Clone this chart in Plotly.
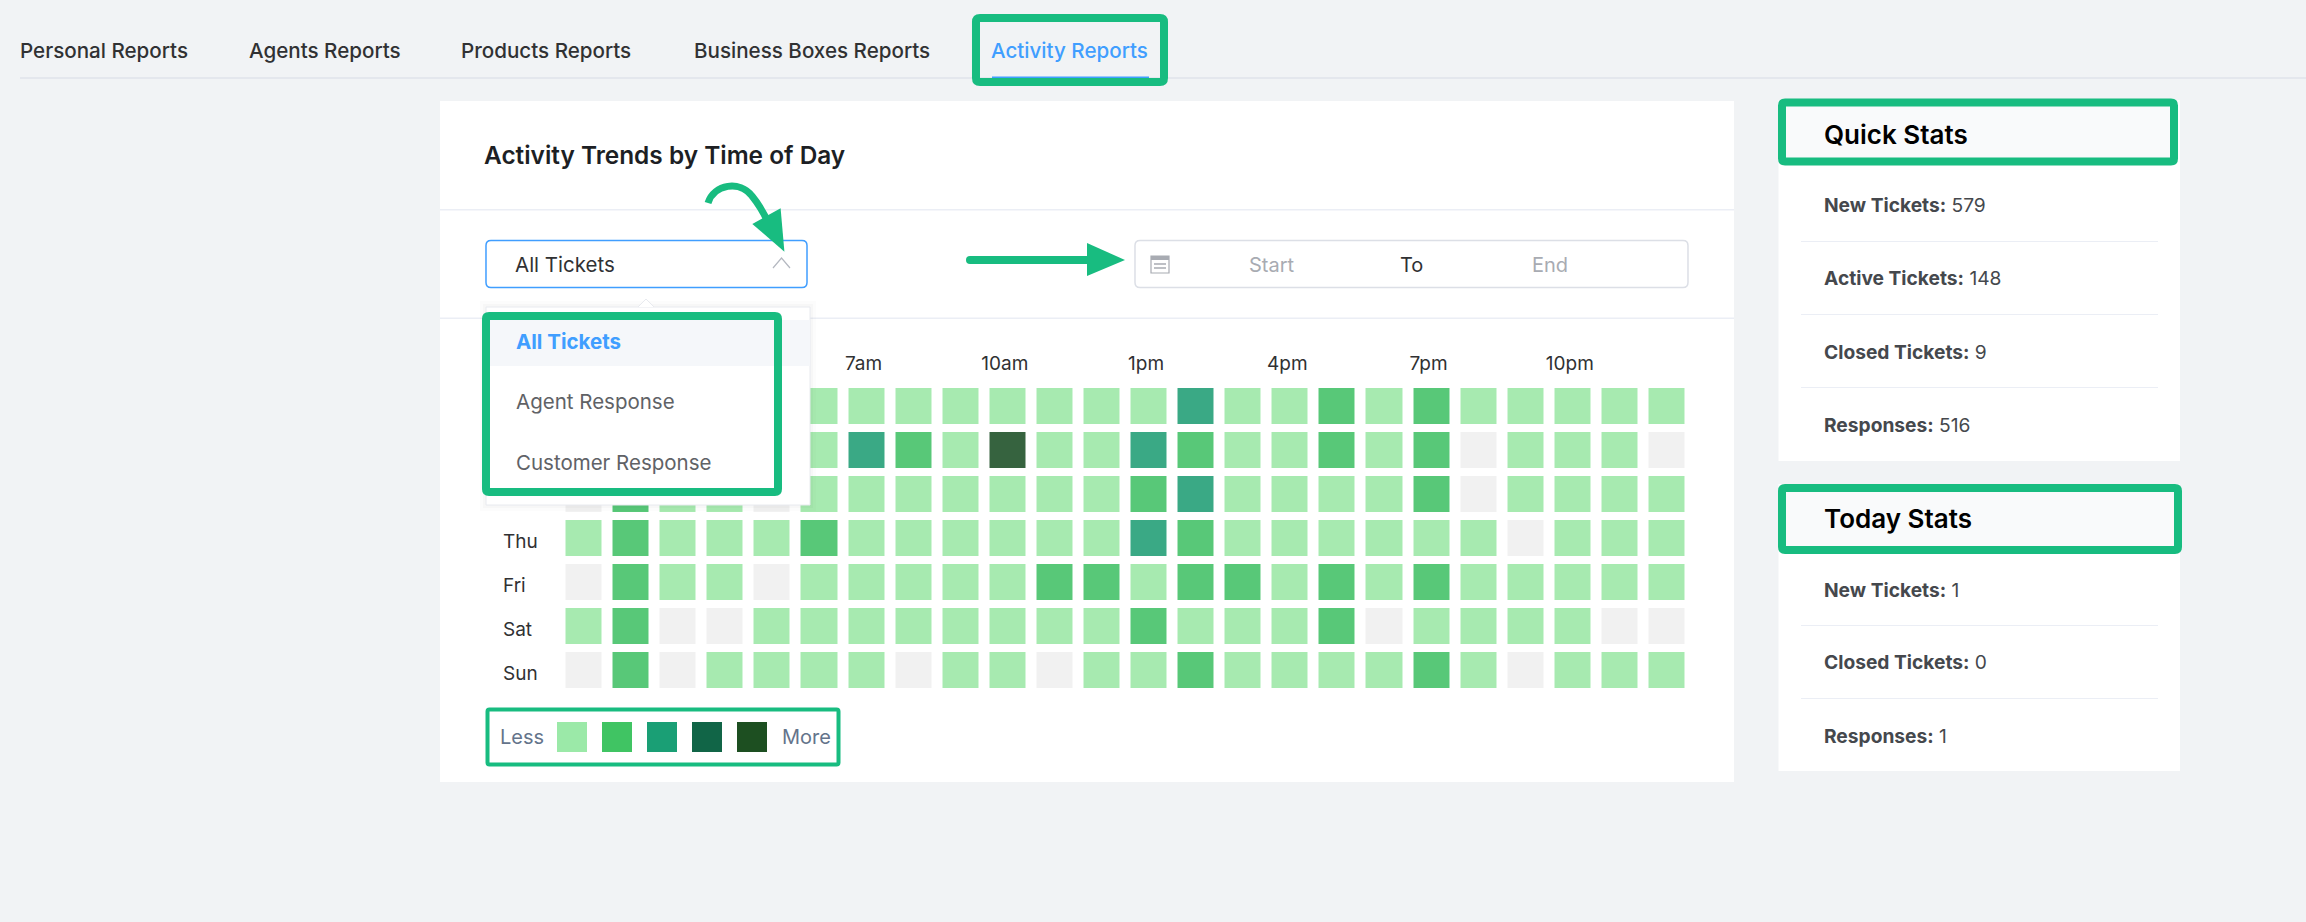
import plotly.graph_objects as go

W = 2306
H = 922

HOURS = ["1am", "2am", "3am", "4am", "5am", "6am", "7am", "8am", "9am", "10am", "11am", "12pm",
         "1pm", "2pm", "3pm", "4pm", "5pm", "6pm", "7pm", "8pm", "9pm", "10pm", "11pm", "12am"]
# 1am, 4am and Mon-Wed are hidden behind the open dropdown
HOUR_TICKS = ["7am", "10am", "1pm", "4pm", "7pm", "10pm"]
DAYS = ["Mon", "Tue", "Wed", "Thu", "Fri", "Sat", "Sun"]
DAY_TICKS = ["Thu", "Fri", "Sat", "Sun"]

# activity level per hour, 0 = nothing, 4 = busiest
MON = [1, 1, 1, 1, 1, 1, 1, 1, 1, 1, 1, 1, 1, 3, 1, 1, 2, 1, 2, 1, 1, 1, 1, 1]
TUE = [1, 1, 1, 1, 1, 1, 3, 2, 1, 4, 1, 1, 3, 2, 1, 1, 2, 1, 2, 0, 1, 1, 1, 0]
WED = [0, 2, 1, 1, 0, 1, 1, 1, 1, 1, 1, 1, 2, 3, 1, 1, 1, 1, 2, 0, 1, 1, 1, 1]
THU = [1, 2, 1, 1, 1, 2, 1, 1, 1, 1, 1, 1, 3, 2, 1, 1, 1, 1, 1, 1, 0, 1, 1, 1]
FRI = [0, 2, 1, 1, 0, 1, 1, 1, 1, 1, 2, 2, 1, 2, 2, 1, 2, 1, 2, 1, 1, 1, 1, 1]
SAT = [1, 2, 0, 0, 1, 1, 1, 1, 1, 1, 1, 1, 2, 1, 1, 1, 2, 0, 1, 1, 1, 1, 0, 0]
SUN = [0, 2, 0, 1, 1, 1, 1, 0, 1, 1, 0, 1, 1, 2, 1, 1, 1, 1, 2, 1, 0, 1, 1, 1]

CELL_COLORS = ["#f1f1f1", "#a7eab0", "#58c878", "#3aa985", "#36633f"]
LEGEND_COLORS = ["#9be9a8", "#40c463", "#1a9f75", "#116547", "#1d4f21"]

TABS = ["Personal Reports", "Agents Reports", "Products Reports", "Business Boxes Reports", "Activity Reports"]
DROPDOWN = ["All Tickets", "Agent Response", "Customer Response"]
QUICK_LABELS = ["New Tickets:", "Active Tickets:", "Closed Tickets:", "Responses:"]
QUICK_VALUES = [579, 148, 9, 516]
TODAY_LABELS = ["New Tickets:", "Closed Tickets:", "Responses:"]
TODAY_VALUES = [1, 0, 1]

GREEN = "#18bc80"
FONT = "Inter"


def fx(x):
    return x / W


def fy(y):
    return 1 - y / H


shapes = []
annotations = []


def rect(x0, y0, x1, y1, fill="rgba(0,0,0,0)", line=None, width=0, layer="above"):
    shapes.append(dict(type="rect", xref="paper", yref="paper", layer=layer,
                       x0=fx(x0), x1=fx(x1), y0=fy(y0), y1=fy(y1), fillcolor=fill,
                       line=dict(color=line or "rgba(0,0,0,0)", width=width)))


def path(cmd, fill="rgba(0,0,0,0)", line=None, width=0):
    # path written in page pixels, converted to paper fractions
    out = []
    is_x = True
    for tok in cmd.split():
        if tok.isalpha():
            out.append(tok)
            is_x = True
        elif is_x:
            out.append(f"{fx(float(tok)):.5f}")
            is_x = False
        else:
            out.append(f"{fy(float(tok)):.5f}")
            is_x = True
    shapes.append(dict(type="path", xref="paper", yref="paper", layer="above", path=" ".join(out),
                       fillcolor=fill, line=dict(color=line or "rgba(0,0,0,0)", width=width)))


def box(x0, y0, x1, y1, r, width=8, color=GREEN):
    path(f"M {x0+r} {y0} L {x1-r} {y0} Q {x1} {y0} {x1} {y0+r} L {x1} {y1-r} Q {x1} {y1} {x1-r} {y1} "
         f"L {x0+r} {y1} Q {x0} {y1} {x0} {y1-r} L {x0} {y0+r} Q {x0} {y0} {x0+r} {y0} Z",
         line=color, width=width)


def label(x, y, text, size=20, color="#303133", anchor="left", weight=400):
    # annotations sit about 2px in from their anchor
    shift = -2.5 if anchor == "left" else 0
    annotations.append(dict(xref="paper", yref="paper", x=fx(x + shift), y=fy(y), text=text, showarrow=False,
                            xanchor=anchor, yanchor="middle", align="left",
                            font=dict(family=FONT, size=size, color=color, weight=weight)))


# tabs
for name, x in zip(TABS, [20.5, 249.5, 461.5, 694, 991]):
    label(x, 50, name, size=20.6, color="#409eff" if name == TABS[-1] else "#303133", weight=500)
rect(20, 77, W, 79, fill="#e4e7ed")
rect(992, 76.5, 1149, 78.5, fill="#409eff")
box(976, 18, 1164, 82, 4)

# main panel
rect(440, 101, 1734, 782, fill="#ffffff", layer="below")
label(484.5, 155, "Activity Trends by Time of Day", size=24.4, color="#1d1f24", weight=600)
rect(440, 209, 1734, 210.5, fill="#ebeef5", layer="below")
rect(440, 317.5, 1734, 319, fill="#ebeef5", layer="below")

# side panels
rect(1778.5, 100, 2180, 461, fill="#ffffff")
rect(1778.5, 484, 2180, 771, fill="#ffffff")
rect(1782, 102, 2174, 161, fill="#f9fafb")
rect(1782, 488, 2178, 550, fill="#f9fafb")
box(1782, 102.4, 2174, 161.4, 3)
box(1782, 488, 2178, 550, 3)
label(1824, 134.5, "Quick Stats", size=26, color="#000000", weight=600)
label(1824, 518.5, "Today Stats", size=26, color="#000000", weight=600)
for name, val, y in zip(QUICK_LABELS, QUICK_VALUES, [205, 278, 352, 425]):
    label(1824, y, f"<b>{name}</b> {val}", size=19.2, color="#45484d")
for y in [241.6, 314.6, 387.6]:
    rect(1801, y - 0.5, 2158, y + 0.5, fill="#ebeef5")
for name, val, y in zip(TODAY_LABELS, TODAY_VALUES, [589.5, 662, 736.3]):
    label(1824, y, f"<b>{name}</b> {val}", size=19.2, color="#45484d")
for y in [625.5, 698.5]:
    rect(1801, y - 0.5, 2158, y + 0.5, fill="#ebeef5")

# date picker
box(1135, 240.5, 1688, 287.5, 5, width=1.5, color="#dcdfe6")
rect(1151, 256, 1169, 273, line="#a8abb2", width=1.2)
rect(1151, 256, 1169, 260, fill="#a8abb2")
for dot_y in [264, 268]:
    path(f"M 1154 {dot_y} L 1166 {dot_y}", line="#a8abb2", width=1.5)
label(1272, 265, "Start", color="#a8abb2", anchor="center")
label(1411, 265, "To", color="#303133", anchor="center")
label(1550, 265, "End", color="#a8abb2", anchor="center")

# select box
box(486, 240.5, 807, 287.5, 5, width=1.5, color="#409eff")
label(515, 264.5, DROPDOWN[0], size=20.5, color="#303133")
path("M 773 268 L 781.5 258 L 790 268", line="#b4b8c0", width=1.2)

# dropdown popover, sits on top of the first cells
rect(480, 301, 816, 511, fill="rgba(0,0,0,0.012)")
rect(483, 304, 813, 508, fill="rgba(0,0,0,0.018)")
rect(486, 307, 810, 505, fill="#ffffff", line="#e8eaef", width=1)
path("M 638 307 L 646 299 L 654 307", line="#e8eaef", width=1, fill="#ffffff")
rect(486, 320, 810, 366, fill="#f5f7fa")
label(516.5, 341.7, DROPDOWN[0], size=20.5, color="#409eff", weight=700)
label(516.5, 401.7, DROPDOWN[1], size=20.5, color="#606266")
label(516.5, 462, DROPDOWN[2], size=20.5, color="#606266")
box(486, 316, 778, 492, 3)

# legend
box(487.5, 709.5, 838.5, 764.5, 2, width=4)
label(500.7, 737, "Less", color="#64748b")
label(782, 737, "More", color="#64748b")
for color, x in zip(LEGEND_COLORS, [557, 602, 647, 692, 737]):
    rect(x, 722, x + 30, 752, fill=color)

# hand drawn arrows
path("M 708 203 C 714 184 740 180 752 196 C 760 206 766 216 770 228", line=GREEN, width=7)
path("M 780.6 208.3 L 752.3 224 L 784.4 251.7 Z", fill=GREEN)
path("M 970 260 L 1090 260", line=GREEN, width=8)
path("M 1087 243 L 1125 260 L 1087 276 Z", fill=GREEN)
shapes.append(dict(type="circle", xref="paper", yref="paper", layer="above", x0=fx(966), x1=fx(974),
                   y0=fy(264), y1=fy(256), fillcolor=GREEN, line=dict(width=0)))

# day names are left aligned in the original, tied to their row through the y axis
for day in DAY_TICKS:
    annotations.append(dict(xref="paper", yref="y", x=fx(501), y=day, yshift=-3, text=day, showarrow=False,
                            xanchor="left", yanchor="middle",
                            font=dict(family=FONT, size=19, color="#303133")))

fig = go.Figure()

n = len(CELL_COLORS) - 1
scale = [[i / n, c] for i, c in enumerate(CELL_COLORS)]
hour_pos = list(range(len(HOURS)))

fig.add_trace(go.Heatmap(
    z=[MON, TUE, WED, THU, FRI, SAT, SUN],
    x=hour_pos,
    y=DAYS,
    zmin=0,
    zmax=n,
    colorscale=scale,
    showscale=False,
    xgap=11,
    ygap=8,
))

fig.update_layout(
    width=W,
    height=H,
    margin=dict(l=0, r=0, t=0, b=0),
    paper_bgcolor="#f1f3f5",
    plot_bgcolor="#ffffff",
    showlegend=False,
    shapes=shapes,
    annotations=annotations,
    xaxis=dict(
        type="linear",
        domain=[fx(560.5), fx(1690.5)],
        range=[-0.5, 23.5],
        side="top",
        showgrid=False,
        zeroline=False,
        showline=False,
        ticks="",
        tickmode="array",
        tickvals=[HOURS.index(t) for t in HOUR_TICKS],
        ticktext=HOUR_TICKS,
        ticklabelshift=-3,
        ticklabelstandoff=9,
        tickfont=dict(family=FONT, size=19, color="#303133"),
    ),
    yaxis=dict(
        type="category",
        categoryorder="array",
        categoryarray=DAYS,
        domain=[fy(692), fy(384)],
        range=[6.5, -0.5],
        showgrid=False,
        zeroline=False,
        showline=False,
        showticklabels=False,
        ticks="",
    ),
)

fig.write_html("out.html", config=dict(displayModeBar=False), post_script="document.body.style.margin='0';")
